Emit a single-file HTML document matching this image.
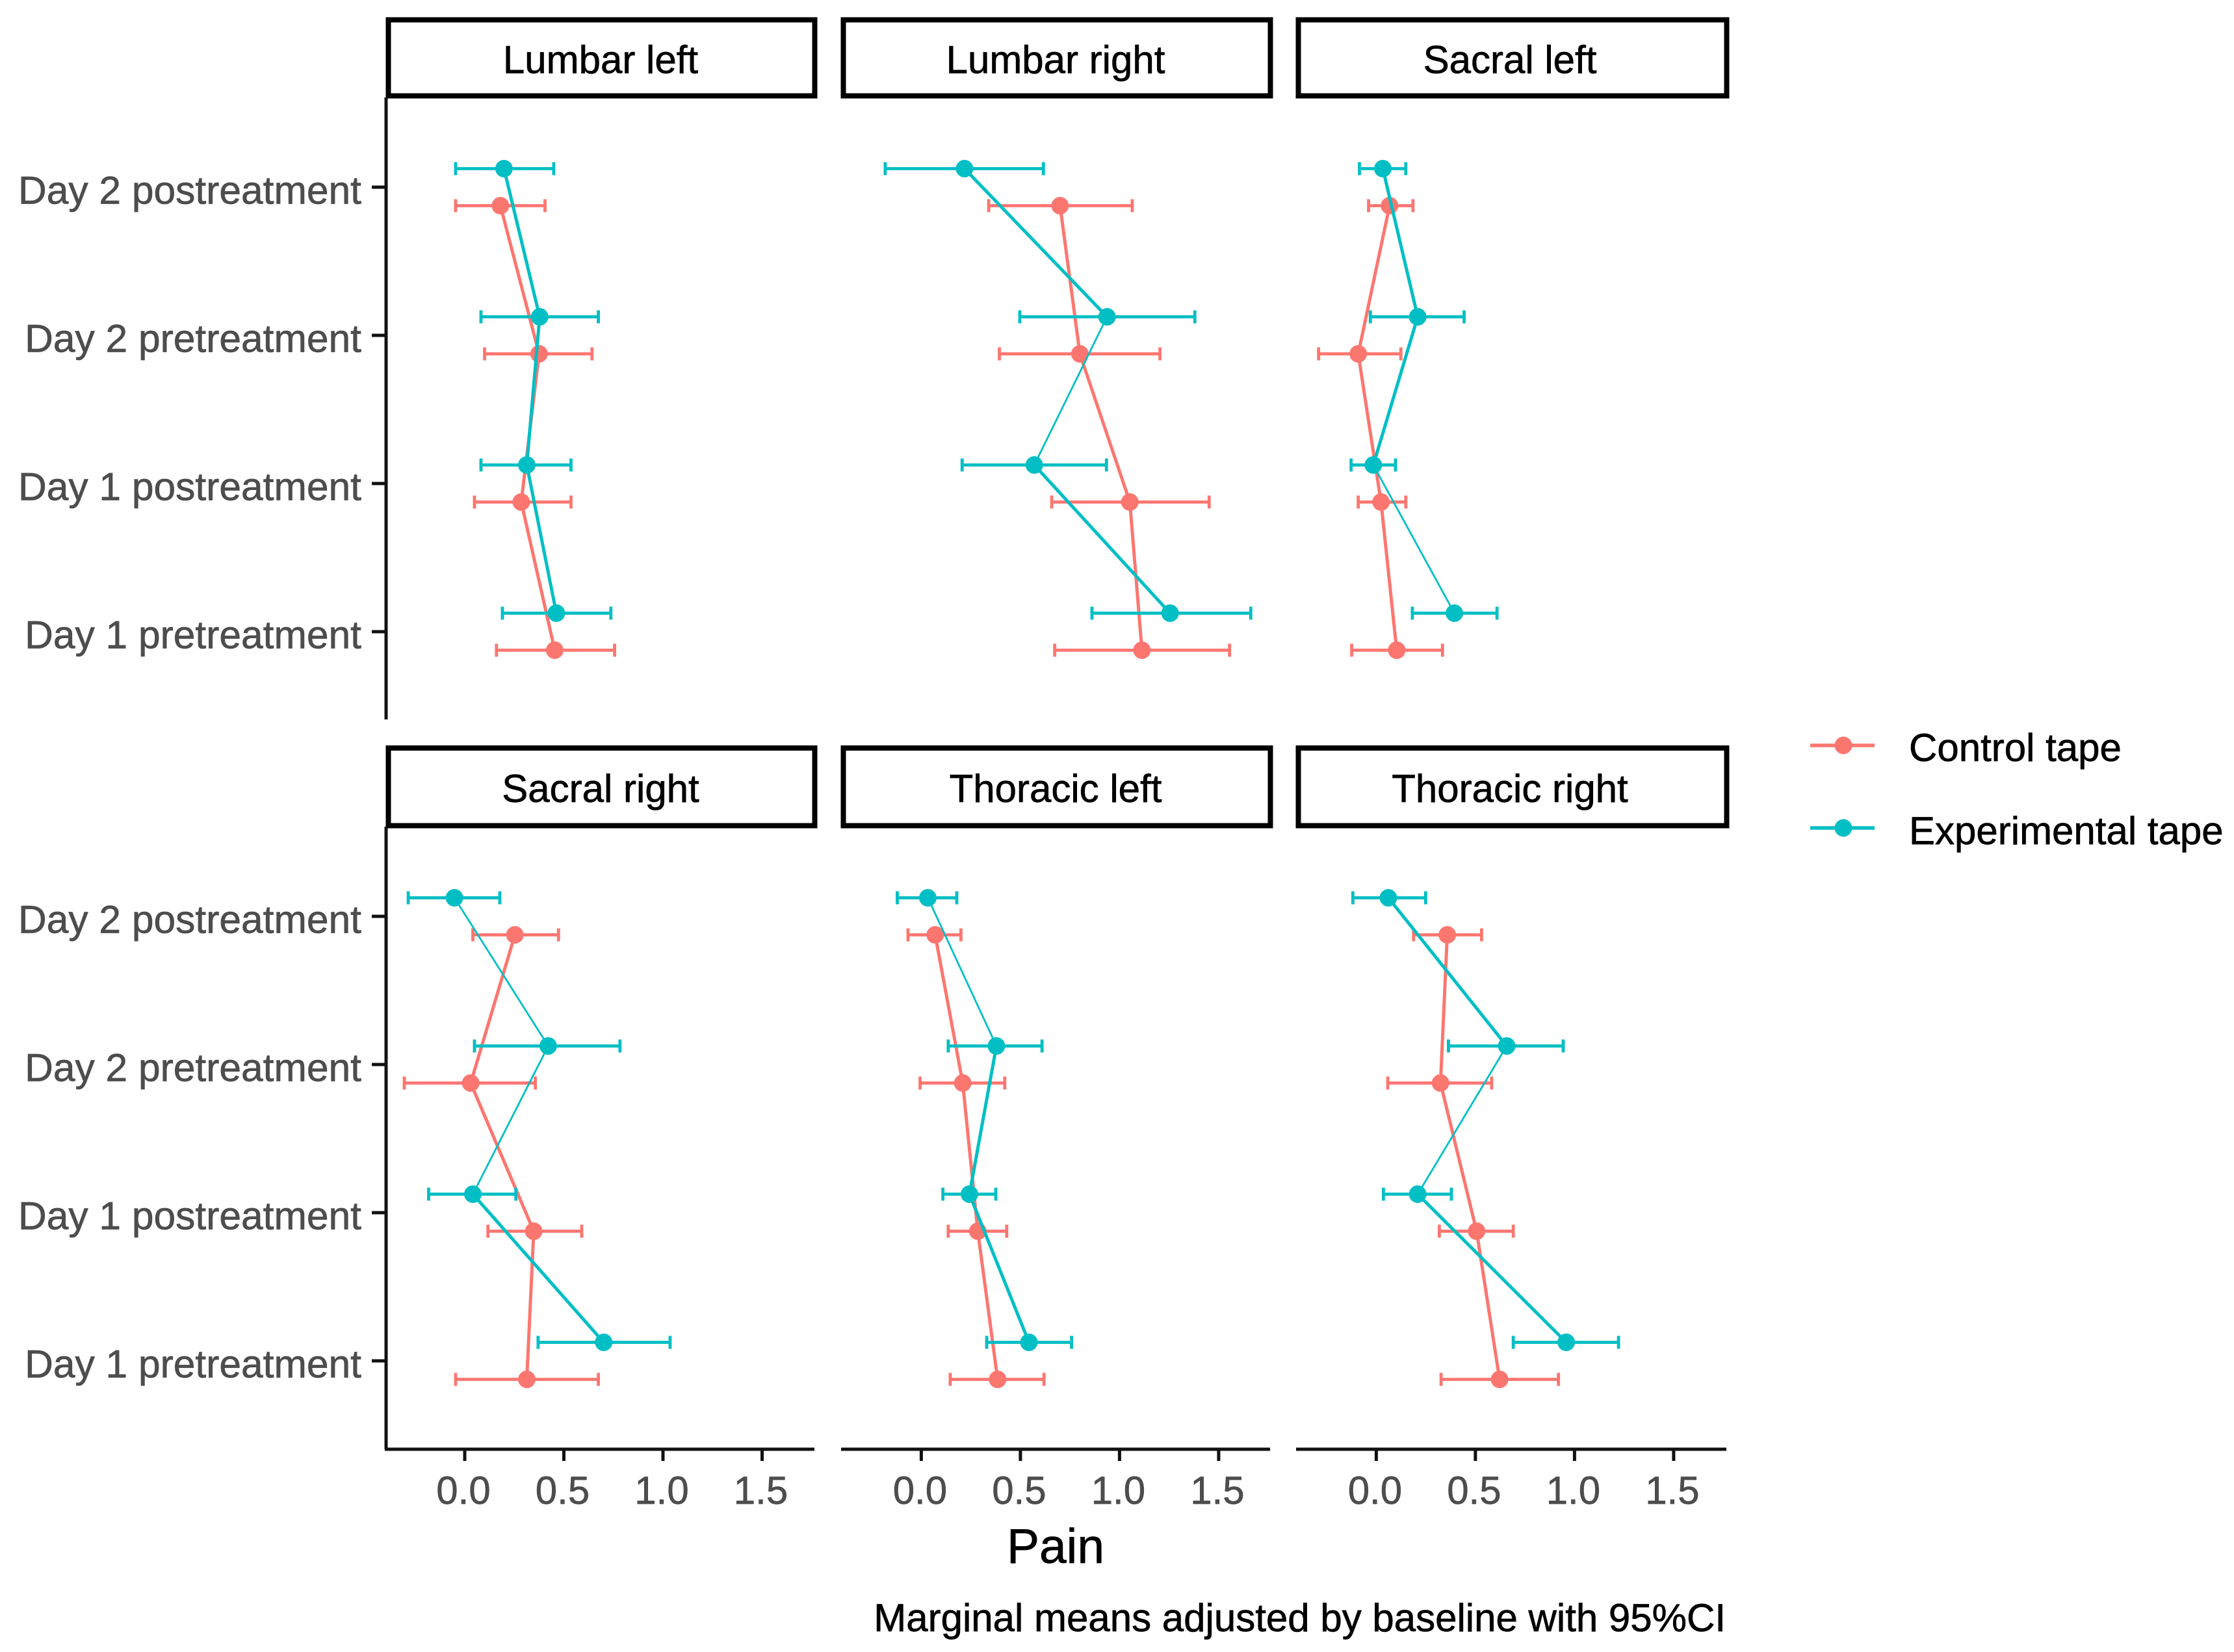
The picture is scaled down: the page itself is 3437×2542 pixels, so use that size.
<!DOCTYPE html>
<html lang="en">
<head>
<meta charset="utf-8">
<title>Marginal means of pain by region and tape</title>
<style>
  html, body { margin: 0; padding: 0; background: #fff; }
  svg { display: block; font-family: "Liberation Sans", Arial, sans-serif; }
  text { stroke-width: 0.7px; paint-order: stroke; }
  .blk { stroke: #000000; }
</style>
</head>
<body>
<svg id="chart" xmlns="http://www.w3.org/2000/svg" width="3437" height="2542" viewBox="0 0 3437 2542">
  <rect x="0" y="0" width="3437" height="2542" fill="#ffffff"/>
  <g id="panels"></g>
  <text class="blk" x="1624" y="2405" font-size="75" text-anchor="middle" fill="#000000">Pain</text>
  <text class="blk" x="2655" y="2510" font-size="60" text-anchor="end" fill="#000000">Marginal means adjusted by baseline with 95%CI</text>
  <g>
    <g>
      <line x1="2785" x2="2884" y1="1147" y2="1147" stroke="#FC7670" stroke-width="5.5"/>
      <circle cx="2836" cy="1147" r="13.5" fill="#FC7670"/>
      <text class="blk" x="2937" y="1171" font-size="60" fill="#000000">Control tape</text>
    </g>
    <g>
      <line x1="2785" x2="2884" y1="1274" y2="1274" stroke="#00BFC4" stroke-width="5.5"/>
      <circle cx="2836" cy="1274" r="13.5" fill="#00BFC4"/>
      <text class="blk" x="2937" y="1299" font-size="60" fill="#000000">Experimental tape</text>
    </g>
  </g>
</svg>
<script>
// Data: one row per facet, values ordered top to bottom as in `categories`.
const facets = ["Lumbar left", "Lumbar right", "Sacral left", "Sacral right", "Thoracic left", "Thoracic right"];
const categories = ["Day 2 postreatment", "Day 2 pretreatment", "Day 1 postreatment", "Day 1 pretreatment"];
const xTicks = [0, 0.5, 1, 1.5];
const xTickLabels = ["0.0", "0.5", "1.0", "1.5"];

const controlMean = [
  [0.18, 0.375, 0.285, 0.454],
  [0.70, 0.80, 1.052, 1.113],
  [0.067, -0.091, 0.024, 0.103],
  [0.253, 0.03, 0.348, 0.313],
  [0.07, 0.209, 0.285, 0.385],
  [0.358, 0.324, 0.506, 0.622]
];
const controlLow = [
  [-0.046, 0.10, 0.049, 0.16],
  [0.34, 0.394, 0.658, 0.673],
  [-0.039, -0.291, -0.091, -0.124],
  [0.041, -0.305, 0.117, -0.046],
  [-0.067, -0.006, 0.136, 0.146],
  [0.188, 0.058, 0.318, 0.327]
];
const controlHigh = [
  [0.405, 0.642, 0.536, 0.756],
  [1.064, 1.204, 1.452, 1.555],
  [0.185, 0.124, 0.149, 0.334],
  [0.473, 0.356, 0.59, 0.674],
  [0.20, 0.421, 0.431, 0.619],
  [0.531, 0.582, 0.691, 0.919]
];
const experimentalMean = [
  [0.198, 0.378, 0.313, 0.462],
  [0.218, 0.937, 0.57, 1.255],
  [0.033, 0.209, -0.015, 0.394],
  [-0.052, 0.421, 0.041, 0.701],
  [0.033, 0.379, 0.243, 0.543],
  [0.061, 0.658, 0.209, 0.958]
];
const experimentalLow = [
  [-0.046, 0.082, 0.082, 0.19],
  [-0.182, 0.497, 0.206, 0.861],
  [-0.085, -0.03, -0.127, 0.182],
  [-0.285, 0.049, -0.182, 0.37],
  [-0.121, 0.136, 0.109, 0.33],
  [-0.118, 0.364, 0.036, 0.691]
];
const experimentalHigh = [
  [0.449, 0.674, 0.536, 0.737],
  [0.616, 1.38, 0.934, 1.662],
  [0.149, 0.443, 0.097, 0.609],
  [0.177, 0.783, 0.258, 1.036],
  [0.179, 0.609, 0.376, 0.758],
  [0.249, 0.943, 0.379, 1.222]
];
// Experimental-tape segments that appear hairline in the reference (by facet).
const thinSegments = [[], [1], [2], [0, 1], [0], [1]];

const NS = "http://www.w3.org/2000/svg";
const root = document.getElementById("panels");
const RED = "#FC7670";
const TEAL = "#00BFC4";
const TEXT_GREY = "#4d4d4d";
const AXIS = "#111111";

const panelLeft = [594, 1294, 1994];
const panelRight = [1253, 1954, 2656];
const titleCenter = [924, 1624, 2323];
const zeroX = [715, 1417.4, 2117.4];
const pxPerUnit = 305;
const rowTop = [150, 1272];
const rowBottom = [1107, 2230];
const stripTop = [30.5, 1151];
const stripBottom = [147.5, 1270.5];
const catStart = 138;
const catStep = 228;
const dodge = 28.5;

function xScale(col, v) { return zeroX[col] + v * pxPerUnit; }
function yScale(row, cat) { return rowTop[row] + catStart + cat * catStep; }

function make(parent, tag, attrs, text) {
  const el = document.createElementNS(NS, tag);
  for (const k in attrs) el.setAttribute(k, attrs[k]);
  if (text !== undefined) el.textContent = text;
  parent.appendChild(el);
  return el;
}

function drawSeries(group, col, row, means, lows, highs, color, offset, thin) {
  const ys = categories.map((_, c) => yScale(row, c) + offset);
  for (let c = 0; c < categories.length - 1; c++) {
    const seg = make(group, "line", {
      x1: xScale(col, means[c]), y1: ys[c],
      x2: xScale(col, means[c + 1]), y2: ys[c + 1],
      stroke: color, "stroke-width": thin.includes(c) ? 2.8 : 5
    });
    
    
  }
  categories.forEach((cat, c) => {
    const xl = xScale(col, lows[c]);
    const xh = xScale(col, highs[c]);
    const bar = make(group, "path", {
      d: "M" + xl + " " + (ys[c] - 10) + "V" + (ys[c] + 10) +
         "M" + xl + " " + ys[c] + "H" + xh +
         "M" + xh + " " + (ys[c] - 10) + "V" + (ys[c] + 10),
      fill: "none", stroke: color, "stroke-width": 4.8
    });
    
    
    const pt = make(group, "circle", { cx: xScale(col, means[c]), cy: ys[c], r: 13.5, fill: color });
    
    
  });
}

facets.forEach((facet, i) => {
  const col = i % 3;
  const row = Math.floor(i / 3);
  const g = make(root, "g", {});
  
  

  const strip = make(g, "rect", {
    x: panelLeft[col] + 3.5, y: stripTop[row],
    width: panelRight[col] - panelLeft[col] - 3, height: stripBottom[row] - stripTop[row],
    fill: "#ffffff", stroke: "#000000", "stroke-width": 8
  });
  
  

  const title = make(g, "text", {
    x: titleCenter[col], y: row === 0 ? 112.5 : 1234,
    "font-size": 60, "text-anchor": "middle", fill: "#000000", stroke: "#000000"
  }, facet);
  
  

  if (col === 0) {
    const yAxis = make(g, "line", {
      x1: panelLeft[0], x2: panelLeft[0], y1: rowTop[row], y2: rowBottom[row],
      stroke: AXIS, "stroke-width": 5
    });
    
    
    categories.forEach((cat, c) => {
      const y = yScale(row, c);
      const tick = make(g, "line", {
        x1: 572, x2: panelLeft[0], y1: y, y2: y, stroke: AXIS, "stroke-width": 5
      });
      
      
      const label = make(g, "text", {
        x: 556, y: y + 25.5, "font-size": 60.5, "text-anchor": "end", fill: TEXT_GREY, stroke: TEXT_GREY
      }, cat);
      
      
    });
  }

  if (row === 1) {
    const xAxis = make(g, "line", {
      x1: panelLeft[col] - (col === 0 ? 2 : 0), x2: panelRight[col], y1: 2230, y2: 2230,
      stroke: AXIS, "stroke-width": 5
    });
    
    
    xTicks.forEach((t, k) => {
      const x = xScale(col, t);
      const tick = make(g, "line", { x1: x, x2: x, y1: 2230, y2: 2248, stroke: AXIS, "stroke-width": 5 });
      
      
      const label = make(g, "text", {
        x: x - 2, y: 2314, "font-size": 60, "text-anchor": "middle", fill: TEXT_GREY, stroke: TEXT_GREY
      }, xTickLabels[k]);
      
      
    });
  }

  drawSeries(g, col, row, controlMean[i], controlLow[i], controlHigh[i], RED, dodge, []);
  drawSeries(g, col, row, experimentalMean[i], experimentalLow[i], experimentalHigh[i], TEAL, -dodge, thinSegments[i]);
});
</script>
</body>
</html>
